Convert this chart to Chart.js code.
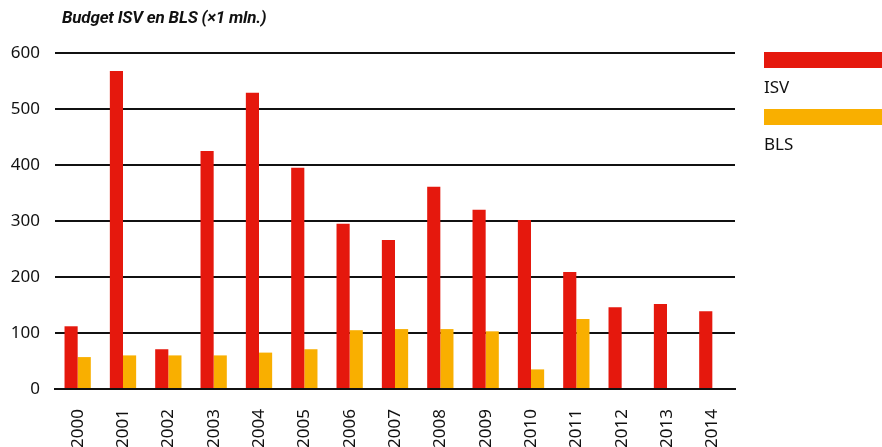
<!DOCTYPE html>
<html>
<head>
<meta charset="utf-8">
<script src="https://cdn.jsdelivr.net/npm/chart.js@4"></script>
<style>
    html, body { margin: 0; padding: 0; background: #fff; }
    #wrap { position: relative; width: 882px; height: 447px; overflow: hidden; }
    #title {
        position: absolute; left: 62px; top: 7px;
        font: italic bold 17px Roboto, sans-serif; color: #111; letter-spacing: -0.2px;
    }
    .legend-box { position: absolute; left: 764px; width: 118px; height: 16px; }
    .legend-label {
        position: absolute; left: 764px;
        font: 17px "Noto Sans", sans-serif; color: #111;
    }
</style>
</head>
<body>
<div id="wrap">
    <canvas id="budgetChart" width="882" height="447"></canvas>
    <div id="title">Budget ISV en BLS (×1 mln.)</div>
    <div class="legend-box" id="box-isv" style="top:52px;"></div>
    <div class="legend-label" style="top:75px;">ISV</div>
    <div class="legend-box" id="box-bls" style="top:109px;"></div>
    <div class="legend-label" style="top:132px;">BLS</div>
</div>
<script>
const years = ["2000","2001","2002","2003","2004","2005","2006","2007","2008","2009","2010","2011","2012","2013","2014"];
const isvValues = [112, 568, 71, 425, 529, 395, 295, 266, 361, 320, 302, 209, 146, 152, 139];
const blsValues = [57, 60, 60, 60, 65, 71, 105, 107, 107, 103, 35, 125, null, null, null];
const yTicks = [0, 100, 200, 300, 400, 500, 600];

const red = "#e5180d";
const yellow = "#f9af00";

document.getElementById("box-isv").style.background = red;
document.getElementById("box-bls").style.background = yellow;

const tickFont = { family: "Noto Sans", size: 17 };

new Chart(document.getElementById("budgetChart"), {
    type: "bar",
    data: {
        labels: years,
        datasets: [
            { label: "ISV", data: isvValues, backgroundColor: red },
            { label: "BLS", data: blsValues, backgroundColor: yellow }
        ]
    },
    options: {
        responsive: false,
        animation: false,
        layout: { padding: { top: 53, right: 147, left: 0, bottom: 0 } },
        datasets: { bar: { categoryPercentage: 0.58, barPercentage: 1.0 } },
        plugins: { legend: { display: false }, tooltip: { enabled: false } },
        scales: {
            x: {
                grid: { display: false },
                border: { display: true, color: "#111", width: 2 },
                ticks: {
                    color: "#111", font: tickFont,
                    minRotation: 90, maxRotation: 90, padding: 12
                },
                afterFit: scale => { scale.height = 58; }
            },
            y: {
                min: 0, max: 600,
                afterBuildTicks: scale => { scale.ticks = yTicks.map(v => ({ value: v })); },
                grid: { color: "#111", lineWidth: 2, drawTicks: false },
                border: { display: false },
                ticks: { color: "#111", font: tickFont, padding: 15 },
                afterFit: scale => { scale.width = 55; }
            }
        }
    }
});
</script>
</body>
</html>
